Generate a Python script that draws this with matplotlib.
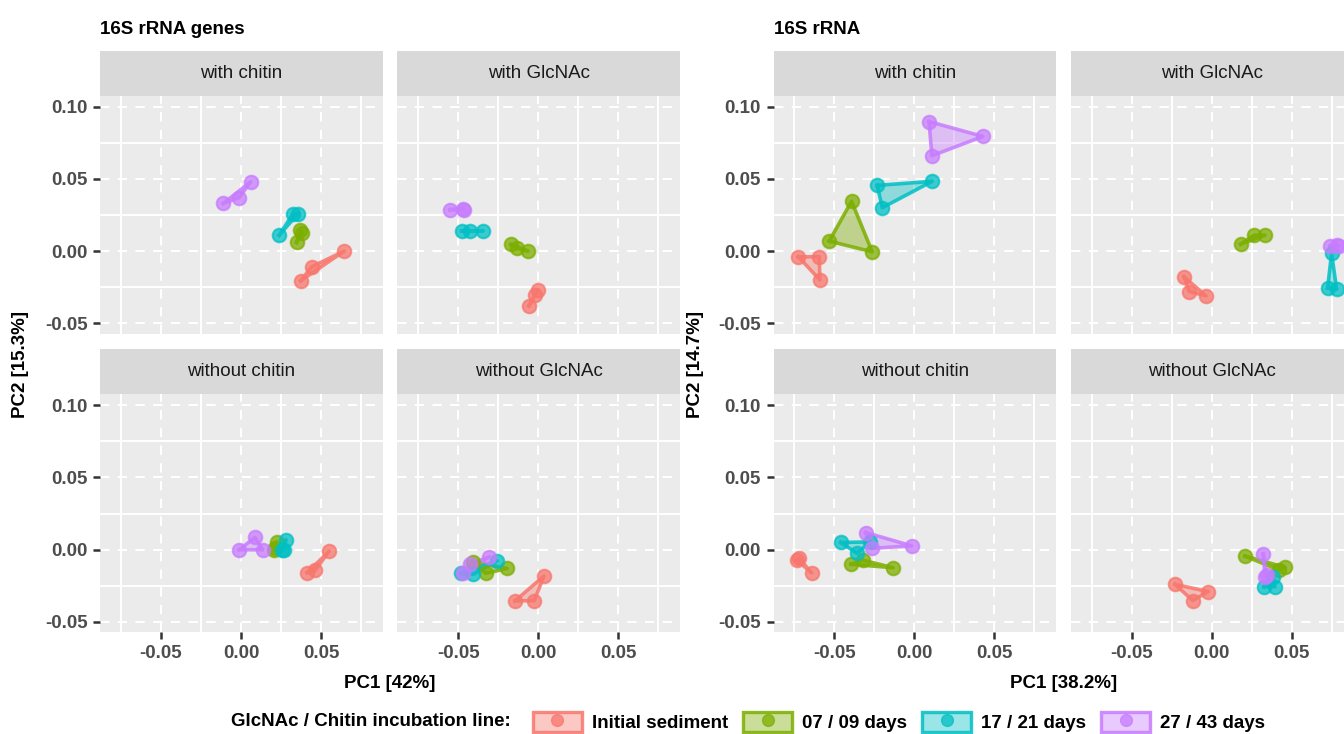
import matplotlib
matplotlib.use("Agg")
import matplotlib.pyplot as plt
from matplotlib.patches import Patch
from matplotlib.lines import Line2D
from matplotlib.legend_handler import HandlerTuple
import numpy as np

plt.rcParams['font.family'] = ['Liberation Sans', 'DejaVu Sans']

# ---------------- data ----------------
groups = ['Initial sediment', '07 / 09 days', '17 / 21 days', '27 / 43 days']
group_colors = ['#F8766D', '#7CAE00', '#00BFC4', '#C77CFF']
group_of_point = [0, 0, 0, 1, 1, 1, 2, 2, 2, 3, 3, 3]

facet_titles = ['with chitin', 'with GlcNAc', 'without chitin', 'without GlcNAc']
block_titles = ['16S rRNA genes', '16S rRNA']
pc1_labels = ['PC1 [42%]', 'PC1 [38.2%]']
pc2_labels = ['PC2 [15.3%]', 'PC2 [14.7%]']
x_ticks = [-0.05, 0.00, 0.05]
y_ticks = [-0.05, 0.00, 0.05, 0.10]
tick_labels_x = ['-0.05', '0.00', '0.05']
tick_labels_y = ['-0.05', '0.00', '0.05', '0.10']

# 16S rRNA genes
genes_with_chitin_pc1 = [0.0373, 0.0442, 0.0646, 0.0371, 0.0383, 0.0348, 0.0239, 0.0323, 0.0358, -0.0111, -0.0011, 0.0061]
genes_with_chitin_pc2 = [-0.0206, -0.0108, 0.0000, 0.0145, 0.0126, 0.0060, 0.0110, 0.0255, 0.0260, 0.0330, 0.0370, 0.0480]
genes_with_glcnac_pc1 = [0.0000, -0.0021, -0.0058, -0.0171, -0.0135, -0.0063, -0.0479, -0.0427, -0.0344, -0.0552, -0.0473, -0.0464]
genes_with_glcnac_pc2 = [-0.0268, -0.0303, -0.0379, 0.0046, 0.0019, 0.0000, 0.0140, 0.0138, 0.0140, 0.0287, 0.0293, 0.0287]
genes_without_chitin_pc1 = [0.0414, 0.0463, 0.0552, 0.0206, 0.0223, 0.0213, 0.0281, 0.0269, 0.0256, -0.0011, 0.0088, 0.0136]
genes_without_chitin_pc2 = [-0.0158, -0.0144, -0.0010, 0.0000, 0.0055, 0.0010, 0.0070, 0.0000, 0.0000, 0.0000, 0.0085, -0.0001]
genes_without_glcnac_pc1 = [-0.0146, -0.0025, 0.0036, -0.0410, -0.0329, -0.0194, -0.0483, -0.0406, -0.0256, -0.0473, -0.0427, -0.0306]
genes_without_glcnac_pc2 = [-0.0355, -0.0353, -0.0182, -0.0083, -0.0164, -0.0130, -0.0164, -0.0171, -0.0077, -0.0164, -0.0101, -0.0049]

# 16S rRNA
rna_with_chitin_pc1 = [-0.0726, -0.0595, -0.0591, -0.0533, -0.0393, -0.0264, -0.0233, -0.0201, 0.0111, 0.0091, 0.0109, 0.0428]
rna_with_chitin_pc2 = [-0.0039, -0.0039, -0.0200, 0.0069, 0.0345, -0.0005, 0.0455, 0.0300, 0.0483, 0.0897, 0.0660, 0.0794]
rna_with_glcnac_pc1 = [-0.0174, -0.0141, -0.0036, 0.0181, 0.0264, 0.0333, 0.0749, 0.0724, 0.0781, 0.0739, 0.0781, 0.0795]
rna_with_glcnac_pc2 = [-0.0177, -0.0280, -0.0310, 0.0048, 0.0110, 0.0110, -0.0016, -0.0257, -0.0264, 0.0034, 0.0041, 0.0034]
rna_without_chitin_pc1 = [-0.0736, -0.0720, -0.0643, -0.0397, -0.0324, -0.0133, -0.0461, -0.0358, -0.0278, -0.0305, -0.0268, -0.0018]
rna_without_chitin_pc2 = [-0.0072, -0.0060, -0.0160, -0.0101, -0.0072, -0.0125, 0.0050, -0.0026, 0.0054, 0.0119, 0.0009, 0.0027]
rna_without_glcnac_pc1 = [-0.0230, -0.0022, -0.0119, 0.0208, 0.0457, 0.0420, 0.0326, 0.0395, 0.0384, 0.0322, 0.0343, 0.0333]
rna_without_glcnac_pc2 = [-0.0240, -0.0290, -0.0352, -0.0044, -0.0122, -0.0141, -0.0257, -0.0257, -0.0188, -0.0030, -0.0175, -0.0187]

blocks = [
    [(genes_with_chitin_pc1, genes_with_chitin_pc2),
     (genes_with_glcnac_pc1, genes_with_glcnac_pc2),
     (genes_without_chitin_pc1, genes_without_chitin_pc2),
     (genes_without_glcnac_pc1, genes_without_glcnac_pc2)],
    [(rna_with_chitin_pc1, rna_with_chitin_pc2),
     (rna_with_glcnac_pc1, rna_with_glcnac_pc2),
     (rna_without_chitin_pc1, rna_without_chitin_pc2),
     (rna_without_glcnac_pc1, rna_without_glcnac_pc2)],
]

# ---------------- layout ----------------
W, H = 1344, 734
fig = plt.figure(figsize=(W / 100, H / 100), dpi=100)
fig.patch.set_facecolor('white')

XLIM = (-0.0881, 0.0886)
YLIM = (-0.0572, 0.1076)
block_left = [100.0, 773.5]
col_offset = 297.3
panel_w = 282.7
strip_h = 45.0
row_strip_top = [50.7, 349.3]
panel_h = 238.0

FS = 13.5


def px_axes(left, top, w, h):
    return fig.add_axes([left / W, 1 - (top + h) / H, w / W, h / H])


def hull(xs, ys):
    pts = sorted(set(zip(xs, ys)))
    if len(pts) <= 2:
        return pts

    def cross(o, a, b):
        return (a[0] - o[0]) * (b[1] - o[1]) - (a[1] - o[1]) * (b[0] - o[0])
    lower, upper = [], []
    for p in pts:
        while len(lower) >= 2 and cross(lower[-2], lower[-1], p) <= 0:
            lower.pop()
        lower.append(p)
    for p in reversed(pts):
        while len(upper) >= 2 and cross(upper[-2], upper[-1], p) <= 0:
            upper.pop()
        upper.append(p)
    return lower[:-1] + upper[:-1]


for b in range(2):
    fig.text(block_left[b] / W, 1 - 30 / H, block_titles[b], fontsize=FS,
             fontweight='bold', ha='left', va='center', color='black')
    for k in range(4):
        r, c = divmod(k, 2)
        left = block_left[b] + c * col_offset
        stop = row_strip_top[r]
        # strip
        sax = px_axes(left, stop, panel_w, strip_h)
        sax.set_facecolor('#D9D9D9')
        sax.set_xticks([]); sax.set_yticks([])
        for s in sax.spines.values():
            s.set_visible(False)
        sax.text(0.5, 0.5, facet_titles[k], transform=sax.transAxes, ha='center',
                 va='center', fontsize=FS, color='#1A1A1A')
        # panel
        ax = px_axes(left, stop + strip_h, panel_w, panel_h)
        ax.set_facecolor('#EBEBEB')
        for s in ax.spines.values():
            s.set_visible(False)
        ax.set_xlim(*XLIM); ax.set_ylim(*YLIM)
        ax.set_xticks(x_ticks)
        ax.set_yticks(y_ticks)
        ax.set_xticks([-0.075, -0.025, 0.025, 0.075], minor=True)
        ax.set_yticks([-0.025, 0.025, 0.075], minor=True)
        ax.grid(which='major', color='white', lw=1.5, linestyle=(0, (4.5, 4)))
        ax.grid(which='minor', color='white', lw=1.4, linestyle='-')
        ax.set_axisbelow(True)
        ax.tick_params(which='minor', length=0)
        ax.tick_params(which='major', length=5, width=1.8, color='#333333',
                       labelsize=FS, labelcolor='#4D4D4D', pad=4)
        if c == 0:
            ax.set_yticklabels(tick_labels_y, fontweight='bold')
        else:
            ax.tick_params(axis='y', left=False, labelleft=False)
        if r == 1:
            ax.set_xticklabels(tick_labels_x, fontweight='bold')
        else:
            ax.tick_params(axis='x', bottom=False, labelbottom=False)

        xs, ys = blocks[b][k]
        xs = np.asarray(xs); ys = np.asarray(ys)
        gi = np.asarray(group_of_point)
        for g in range(4):
            m = gi == g
            col = group_colors[g]
            hp = hull(xs[m], ys[m])
            if len(hp) >= 3:
                hx = [p[0] for p in hp]; hy = [p[1] for p in hp]
                ax.fill(hx, hy, color=col, alpha=0.4, lw=0, zorder=2)
                ax.plot(hx + [hx[0]], hy + [hy[0]], color=col, alpha=0.85,
                        lw=2.6, zorder=3, solid_joinstyle='round')
            else:
                ax.plot([p[0] for p in hp], [p[1] for p in hp], color=col,
                        alpha=0.85, lw=2.6, zorder=3)
            ax.scatter(xs[m], ys[m], s=95, color=col, alpha=0.75,
                       edgecolors=col, linewidths=1.5, zorder=4)

    # axis titles
    gx_center = (block_left[b] + col_offset + panel_w + block_left[b]) / 2
    fig.text(gx_center / W, 1 - 683 / H, pc1_labels[b], fontsize=FS,
             fontweight='bold', ha='center', va='center', color='black')
    ylab_x = [21, 695][b]
    fig.text(ylab_x / W, 1 - 364 / H, pc2_labels[b], fontsize=FS,
             fontweight='bold', ha='center', va='center', rotation=90, color='black')

# ---------------- legend ----------------
fig.text(511 / W, 1 - 722 / H, 'GlcNAc / Chitin incubation line:', fontsize=FS,
         fontweight='bold', ha='right', va='center', color='black')
handles = []
for g in range(4):
    col = group_colors[g]
    patch = Patch(facecolor=matplotlib.colors.to_rgba(col, 0.4),
                  edgecolor=matplotlib.colors.to_rgba(col, 0.85), lw=2.4)
    dot = Line2D([], [], marker='o', linestyle='none', markersize=8.5,
                 markerfacecolor=matplotlib.colors.to_rgba(col, 0.75),
                 markeredgecolor=matplotlib.colors.to_rgba(col, 0.75))
    handles.append((patch, dot))
leg = fig.legend(handles, groups, ncol=4, loc='center left',
                 bbox_to_anchor=(533 / W, 1 - 722 / H), frameon=False,
                 handler_map={tuple: HandlerTuple(ndivide=1, pad=0)},
                 prop={'size': FS, 'weight': 'bold'},
                 handlelength=2.6, handleheight=1.25, handletextpad=0.55,
                 columnspacing=0.8, borderpad=0, borderaxespad=0)

fig.savefig('out.png', dpi=100)
